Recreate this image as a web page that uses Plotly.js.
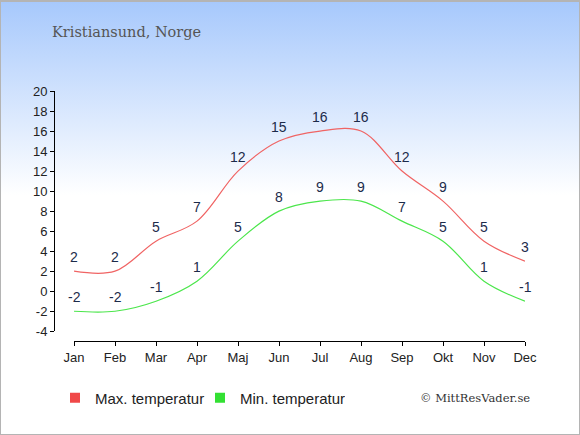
<!DOCTYPE html>
<html>
<head>
<meta charset="utf-8">
<script src="https://cdn.plot.ly/plotly-3.0.1.min.js"></script>
<style>
html,body{margin:0;padding:0;}
#wrap{position:relative;width:580px;height:435px;background:linear-gradient(to bottom,#a6c8fc 0px,#ffffff 195px,#ffffff 435px);}
#frame{position:absolute;left:0;top:0;width:580px;height:435px;box-sizing:border-box;border:1px solid #b4b4b4;border-top:2px solid #b4b4b4;pointer-events:none;}
#chart{position:absolute;left:0;top:0;width:580px;height:435px;}
</style>
</head>
<body>
<div id="wrap"><div id="chart"></div><div id="frame"></div></div>
<script>
const months = ["Jan","Feb","Mar","Apr","Maj","Jun","Jul","Aug","Sep","Okt","Nov","Dec"];
const maxTemp = [2,2,5,7,12,15,16,16,12,9,5,3];
const minTemp = [-2,-2,-1,1,5,8,9,9,7,5,1,-1];
const yTicks = [-4,-2,0,2,4,6,8,10,12,14,16,18,20];
const seriesNames = ["Max. temperatur","Min. temperatur"];
const colors = ["#f04848","#33e033"];
const lineColors = ["#f06464","#4ce64c"];

const traces = [
  {x: months, y: maxTemp, mode: "lines", line: {shape: "spline", smoothing: 1, color: lineColors[0], width: 1.2}, showlegend: false, hoverinfo: "skip"},
  {x: months, y: minTemp, mode: "lines", line: {shape: "spline", smoothing: 1, color: lineColors[1], width: 1.2}, showlegend: false, hoverinfo: "skip"},
  {x: [months[0]], y: [null], mode: "markers", name: seriesNames[0], marker: {symbol: "square", size: 10, color: colors[0]}},
  {x: [months[0]], y: [null], mode: "markers", name: seriesNames[1], marker: {symbol: "square", size: 10, color: colors[1]}}
];

const annFont = {family: "Liberation Sans, Arial, sans-serif", size: 14, color: "#1c2b4a"};
const annotations = [];
[maxTemp, minTemp].forEach(arr => {
  arr.forEach((v, i) => {
    annotations.push({x: months[i], y: v, text: String(v), showarrow: false, yshift: 14, xanchor: "center", yanchor: "middle", font: annFont});
  });
});
annotations.push({xref: "paper", yref: "paper", x: (418 - 54) / 471, y: -0.228, xanchor: "left", yanchor: "middle", showarrow: false,
  text: "© MittResVader.se", font: {family: "DejaVu Serif, serif", size: 11.5, color: "#333"}});

const tickFont = {family: "Liberation Sans, Arial, sans-serif", size: 13, color: "#222"};
const layout = {
  width: 580, height: 435,
  paper_bgcolor: "rgba(0,0,0,0)", plot_bgcolor: "rgba(0,0,0,0)",
  margin: {l: 54, r: 55, t: 91, b: 94},
  title: {text: "Kristiansund, Norge", x: 52/580, xanchor: "left", xref: "container", y: 1 - 32/435, yanchor: "middle", yref: "container",
    font: {family: "DejaVu Serif, serif", size: 14.5, color: "#555"}},
  xaxis: {type: "category", categoryarray: months, range: [0, 11], domain: [20/471, 1], anchor: "free", position: 0,
    showline: true, linecolor: "#000", linewidth: 1, ticks: "outside", ticklen: 4, tickcolor: "#000",
    showgrid: false, zeroline: false, tickfont: tickFont, fixedrange: true},
  yaxis: {domain: [0.039, 1], range: [-4, 20], tickvals: yTicks, ticktext: yTicks.map(String), anchor: "free", position: 0,
    showline: true, linecolor: "#000", linewidth: 1, ticks: "outside", ticklen: 4, tickcolor: "#000",
    showgrid: false, zeroline: false, tickfont: tickFont, fixedrange: true},
  legend: {orientation: "h", xref: "container", yref: "container", x: 55/580, y: 1 - 398/435, xanchor: "left", yanchor: "middle",
    entrywidth: 100, entrywidthmode: "pixels",
    font: {family: "Liberation Sans, Arial, sans-serif", size: 15, color: "#222"}, bgcolor: "rgba(0,0,0,0)"},
  annotations: annotations,
  showlegend: true
};
Plotly.newPlot("chart", traces, layout, {displayModeBar: false, staticPlot: true});
</script>
</body>
</html>
